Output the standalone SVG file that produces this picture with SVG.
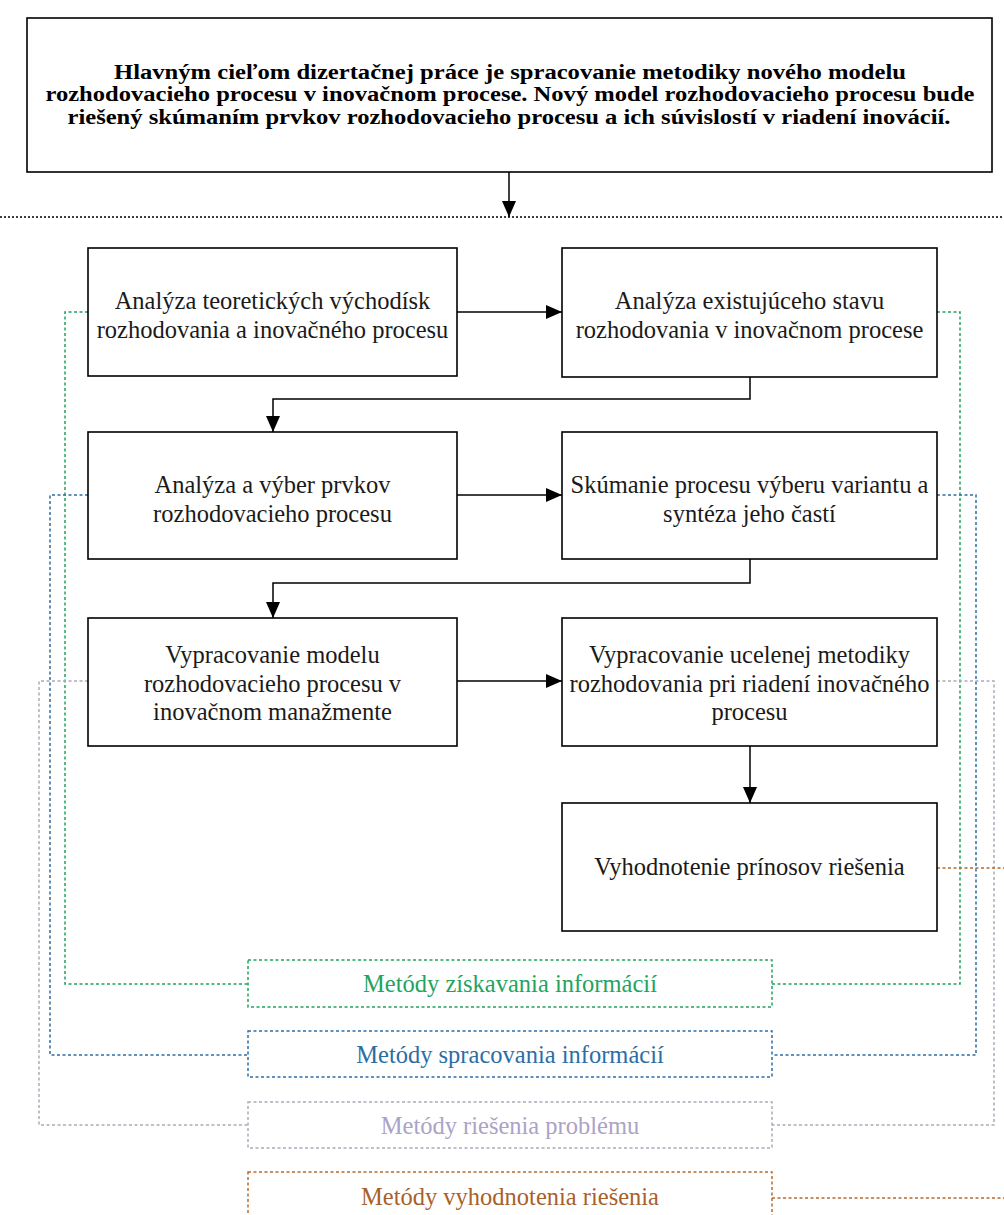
<svg xmlns="http://www.w3.org/2000/svg" width="1004" height="1215" viewBox="0 0 1004 1215">
  <style>
    .box { fill: #ffffff; stroke: #000000; stroke-width: 1.6; }
    .txt { font-family: "Liberation Serif", "Times New Roman", serif; font-size: 24.5px; fill: #1a1a1a; text-anchor: middle; }
    .goal { font-family: "Liberation Serif", "Times New Roman", serif; font-size: 20px; font-weight: bold; fill: #000000; text-anchor: middle; }
    .flow { fill: none; stroke: #000000; stroke-width: 1.5; }
    .dot { fill: none; stroke-width: 1.5; stroke-dasharray: 3 2.5; }
    .mbox { fill: #ffffff; stroke-width: 1.5; stroke-dasharray: 3 2.5; }
    .green { stroke: #23a35f; }
    .blue { stroke: #2b6ea6; }
    .gray { stroke: #acaabb; }
    .orange { stroke: #b86a2e; }
  </style>
  <defs>
    <marker id="arrowBig" viewBox="0 0 16 14" refX="16" refY="7" markerWidth="16" markerHeight="14" markerUnits="userSpaceOnUse" orient="auto">
      <path d="M0 0 L16 7 L0 14 Z" fill="#000000"/>
    </marker>
  </defs>

  <!-- method links (dotted) -->
  <g id="method-links">
    <path class="dot green" d="M88 312 H65 V984 H248"/>
    <path class="dot green" d="M937 312 H960 V984 H772"/>
    <path class="dot blue" d="M88 495 H50 V1055 H248"/>
    <path class="dot blue" d="M937 495 H976 V1055 H772"/>
    <path class="dot gray" d="M88 681 H39 V1125 H248"/>
    <path class="dot gray" d="M937 681 H994 V1125 H772"/>
    <path class="dot orange" d="M937 868 H1004"/>
    <path class="dot orange" d="M772 1198 H1004"/>
  </g>

  <!-- separator -->
  <line x1="0" y1="217" x2="1004" y2="217" stroke="#000000" stroke-width="1.5" stroke-dasharray="2 2"/>

  <!-- process flow -->
  <g id="connectors">
    <path class="flow" d="M509 172 V217" marker-end="url(#arrowBig)"/>
    <path class="flow" d="M457 312 H562" marker-end="url(#arrowBig)"/>
    <path class="flow" d="M750 377 V399 H273 V432" marker-end="url(#arrowBig)"/>
    <path class="flow" d="M457 495 H562" marker-end="url(#arrowBig)"/>
    <path class="flow" d="M750 559 V583 H273 V618" marker-end="url(#arrowBig)"/>
    <path class="flow" d="M457 681 H562" marker-end="url(#arrowBig)"/>
    <path class="flow" d="M750 746 V803" marker-end="url(#arrowBig)"/>
  </g>

  <g id="goal">
    <rect class="box" x="27" y="18" width="965" height="154"/>
    <text class="goal" x="510" y="78.5" textLength="792" lengthAdjust="spacingAndGlyphs">Hlavným cieľom dizertačnej práce je spracovanie metodiky nového modelu</text>
    <text class="goal" x="510" y="101" textLength="929" lengthAdjust="spacingAndGlyphs">rozhodovacieho procesu v inovačnom procese. Nový model rozhodovacieho procesu bude</text>
    <text class="goal" x="509" y="123.5" textLength="883" lengthAdjust="spacingAndGlyphs">riešený skúmaním prvkov rozhodovacieho procesu a ich súvislostí v riadení inovácií.</text>
  </g>

  <g id="step1">
    <rect class="box" x="88" y="248" width="369" height="128"/>
    <text class="txt" x="272.5" y="309">Analýza teoretických východísk</text>
    <text class="txt" x="272.5" y="338">rozhodovania a inovačného procesu</text>
  </g>

  <g id="step2">
    <rect class="box" x="562" y="248" width="375" height="129"/>
    <text class="txt" x="749.5" y="309">Analýza existujúceho stavu</text>
    <text class="txt" x="749.5" y="338">rozhodovania v inovačnom procese</text>
  </g>

  <g id="step3">
    <rect class="box" x="88" y="432" width="369" height="127"/>
    <text class="txt" x="272.5" y="493">Analýza a výber prvkov</text>
    <text class="txt" x="272.5" y="522">rozhodovacieho procesu</text>
  </g>

  <g id="step4">
    <rect class="box" x="562" y="432" width="375" height="127"/>
    <text class="txt" x="749.5" y="493">Skúmanie procesu výberu variantu a</text>
    <text class="txt" x="749.5" y="522">syntéza jeho častí</text>
  </g>

  <g id="step5">
    <rect class="box" x="88" y="618" width="369" height="128"/>
    <text class="txt" x="272.5" y="663">Vypracovanie modelu</text>
    <text class="txt" x="272.5" y="692">rozhodovacieho procesu v</text>
    <text class="txt" x="272.5" y="720">inovačnom manažmente</text>
  </g>

  <g id="step6">
    <rect class="box" x="562" y="618" width="375" height="128"/>
    <text class="txt" x="749.5" y="663">Vypracovanie ucelenej metodiky</text>
    <text class="txt" x="749.5" y="692">rozhodovania pri riadení inovačného</text>
    <text class="txt" x="749.5" y="720">procesu</text>
  </g>

  <g id="step7">
    <rect class="box" x="562" y="803" width="375" height="128"/>
    <text class="txt" x="749.5" y="875">Vyhodnotenie prínosov riešenia</text>
  </g>

  <g id="methods-info-gathering">
    <rect class="mbox green" x="248" y="960" width="524" height="47"/>
    <text class="txt" x="510" y="992" style="fill:#23a35f">Metódy získavania informácií</text>
  </g>

  <g id="methods-info-processing">
    <rect class="mbox blue" x="248" y="1031" width="524" height="46"/>
    <text class="txt" x="510" y="1063" style="fill:#2b6ea6">Metódy spracovania informácií</text>
  </g>

  <g id="methods-problem-solving">
    <rect class="mbox gray" x="248" y="1102" width="524" height="46"/>
    <text class="txt" x="510" y="1134" style="fill:#aaa3c6">Metódy riešenia problému</text>
  </g>

  <g id="methods-evaluation">
    <rect class="mbox orange" x="248" y="1172" width="524" height="52"/>
    <text class="txt" x="510" y="1205" style="fill:#a8612a">Metódy vyhodnotenia riešenia</text>
  </g>
</svg>
